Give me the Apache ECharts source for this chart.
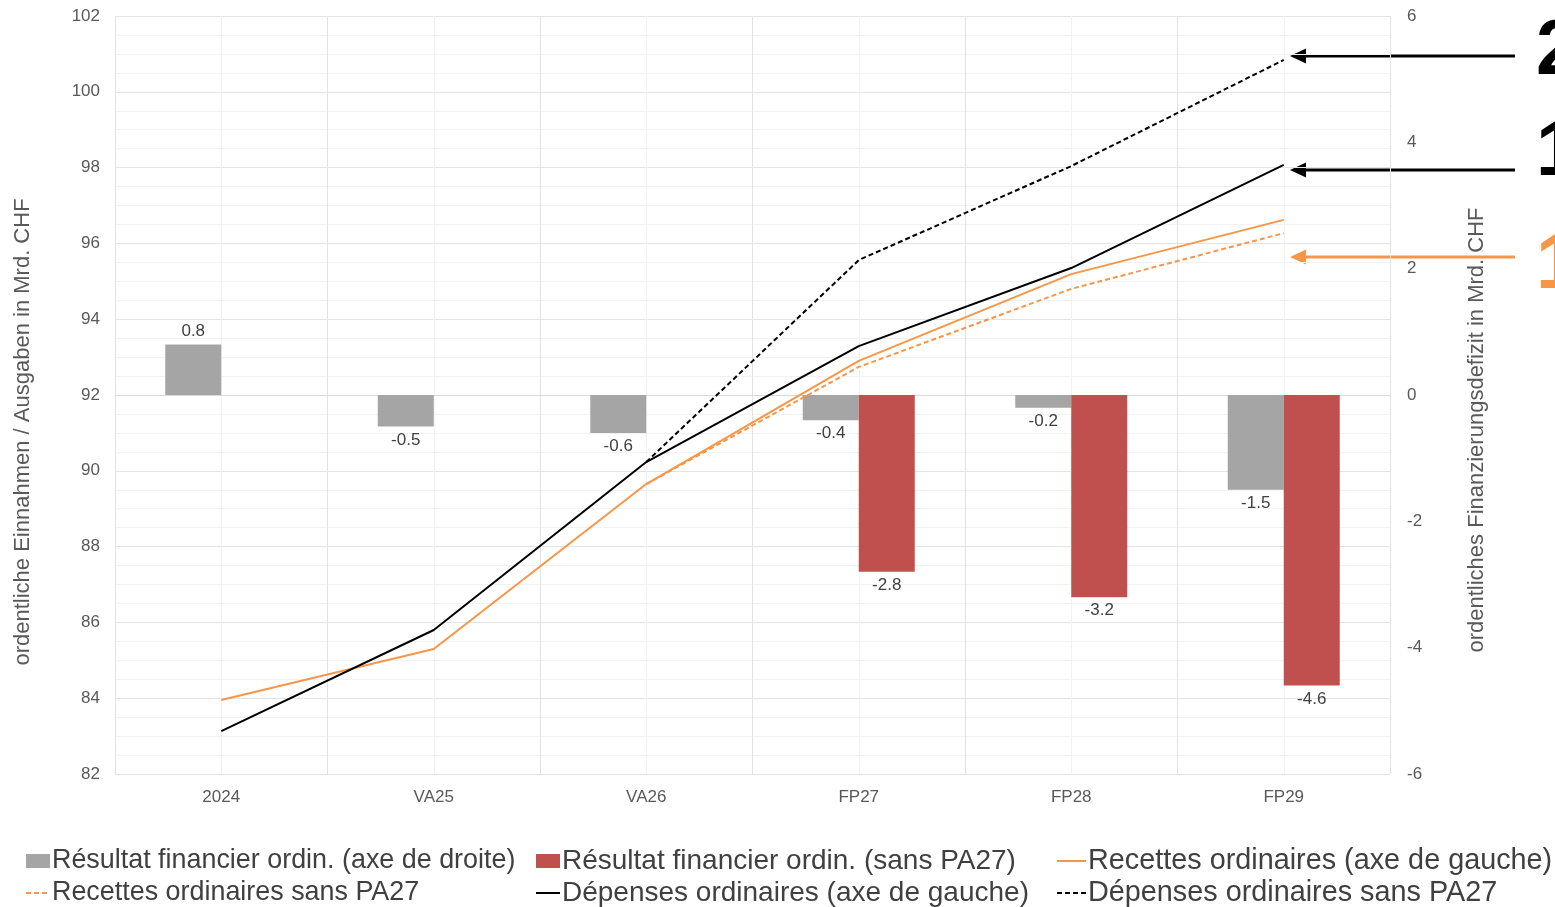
<!DOCTYPE html>
<html>
<head>
<meta charset="utf-8">
<script src="https://cdn.jsdelivr.net/npm/echarts@6/dist/echarts.min.js"></script>
<style>
  html, body { margin: 0; padding: 0; background: #ffffff; }
  #chart { width: 1555px; height: 907px; }
</style>
</head>
<body>
<div id="chart"></div>
<script>
// Budget years
const categories = ['2024', 'VA25', 'VA26', 'FP27', 'FP28', 'FP29'];

// Ordinary financial result, right axis (bn CHF)
const resultat = [0.8, -0.5, -0.6, -0.4, -0.2, -1.5];
const resultatSansPA27 = [null, null, null, -2.8, -3.2, -4.6];

// Ordinary receipts / expenditure, left axis (bn CHF)
const recettes = [83.95, 85.30, 89.65, 92.90, 95.19, 96.62];
const recettesSansPA27 = [null, null, 89.65, 92.74, 94.80, 96.27];
const depenses = [83.13, 85.80, 90.23, 93.29, 95.35, 98.07];
const depensesSansPA27 = [null, null, 90.23, 95.56, 98.04, 100.84];

// Axis ranges
const leftAxis = { min: 82, max: 102, interval: 2 };
const rightAxis = { min: -6, max: 6, interval: 2 };

// Callout numbers beside the line ends
const callouts = ['2', '1', '1'];

const FONT = '"Liberation Sans", Arial, Helvetica, sans-serif';
const GREY = '#A5A5A5';
const RED = '#C0504D';
const ORANGE = '#F79646';
const BLACK = '#000000';
const TICK = '#595959';
const LABEL = '#404040';

const names = {
  res: 'Résultat financier ordin. (axe de droite)',
  resSans: 'Résultat financier ordin. (sans PA27)',
  rec: 'Recettes ordinaires (axe de gauche)',
  recSans: 'Recettes ordinaires sans PA27',
  dep: 'Dépenses ordinaires (axe de gauche)',
  depSans: 'Dépenses ordinaires sans PA27'
};

function barData(arr) {
  return arr.map(v => v == null ? null : {
    value: v,
    label: { position: v >= 0 ? 'top' : 'bottom' }
  });
}

const barLabel = {
  show: true,
  distance: 5,
  color: LABEL,
  fontSize: 17,
  fontFamily: FONT,
  formatter: p => p.value.toFixed(1)
};

// legend entries for lines: plain line sample, no symbol dot
const lineEntry = name => ({ name: name, itemStyle: { opacity: 0 } });
const barEntry = name => ({ name: name, icon: 'rect' });

function legendColumn(left, itemWidth, fontSize, data) {
  return {
    orient: 'vertical',
    left: left,
    bottom: -2,
    padding: 0,
    itemGap: 0,
    itemWidth: itemWidth,
    itemHeight: 14,
    selectedMode: false,
    textStyle: { fontSize: fontSize, color: LABEL, fontFamily: FONT, lineHeight: 32,
                 padding: [0, 0, 0, -3] },
    data: data
  };
}

function arrow(y, color) {
  return [
    { type: 'line', shape: { x1: 1515, y1: y, x2: 1302, y2: y },
      style: { stroke: color, lineWidth: 3 }, silent: true },
    { type: 'polygon', shape: { points: [[1290, y], [1306, y - 7.5], [1306, y + 7.5]] },
      style: { fill: color }, silent: true }
  ];
}

function callout(text, y, color) {
  return { type: 'text', x: 1536, y: y, silent: true,
    style: { text: text, fill: color, font: 'bold 77px ' + FONT,
             textAlign: 'left', textVerticalAlign: 'middle' } };
}

const chart = echarts.init(document.getElementById('chart'));

chart.setOption({
  animation: false,
  backgroundColor: '#ffffff',
  textStyle: { fontFamily: FONT },
  grid: { left: 115, right: 165, top: 16, bottom: 133, containLabel: false },
  xAxis: [
    {
      type: 'category',
      data: categories,
      boundaryGap: true,
      axisLine: { show: true, lineStyle: { color: '#D9D9D9', width: 1 } },
      axisTick: { show: false },
      splitLine: { show: false },
      axisLabel: { color: TICK, fontSize: 17, margin: 15 }
    },
    {
      // half-category grid: boundaries as major lines, centres as minor lines
      type: 'value',
      min: 0, max: 6, interval: 1,
      position: 'top',
      axisLine: { show: false },
      axisTick: { show: false },
      axisLabel: { show: false },
      splitLine: { show: true, lineStyle: { color: '#E3E3E3', width: 1 } },
      minorTick: { show: false, splitNumber: 2 },
      minorSplitLine: { show: true, lineStyle: { color: '#F2F2F2', width: 1 } }
    }
  ],
  yAxis: [
    {
      type: 'value',
      min: leftAxis.min, max: leftAxis.max, interval: leftAxis.interval,
      axisLine: { show: false },
      axisTick: { show: false },
      axisLabel: { color: TICK, fontSize: 17, margin: 15 },
      splitLine: { show: true, lineStyle: { color: '#E3E3E3', width: 1 } },
      minorTick: { show: false, splitNumber: 4 },
      minorSplitLine: { show: true, lineStyle: { color: '#F2F2F2', width: 1 } }
    },
    {
      type: 'value',
      min: rightAxis.min, max: rightAxis.max, interval: rightAxis.interval,
      position: 'right',
      axisLine: { show: false },
      axisTick: { show: false },
      axisLabel: { color: TICK, fontSize: 17, margin: 17 },
      splitLine: { show: false }
    }
  ],
  legend: [
    legendColumn(25, 24, 26.9, [barEntry(names.res), lineEntry(names.recSans)]),
    legendColumn(535, 24, 28, [barEntry(names.resSans), lineEntry(names.dep)]),
    legendColumn(1056, 29, 28.8, [lineEntry(names.rec), lineEntry(names.depSans)])
  ],
  series: [
    {
      name: names.res, type: 'bar', yAxisIndex: 1,
      data: barData(resultat), barWidth: 56, barGap: '0%',
      itemStyle: { color: GREY }, label: barLabel
    },
    {
      name: names.resSans, type: 'bar', yAxisIndex: 1,
      data: barData(resultatSansPA27), barWidth: 56, barGap: '0%',
      itemStyle: { color: RED }, label: barLabel
    },
    {
      name: names.rec, type: 'line', yAxisIndex: 0, data: recettes,
      symbol: 'none', lineStyle: { color: ORANGE, width: 2 }, itemStyle: { color: ORANGE }, z: 3
    },
    {
      name: names.recSans, type: 'line', yAxisIndex: 0, data: recettesSansPA27,
      symbol: 'none', lineStyle: { color: ORANGE, width: 2, type: [5, 3] }, itemStyle: { color: ORANGE }, z: 3
    },
    {
      name: names.dep, type: 'line', yAxisIndex: 0, data: depenses,
      symbol: 'none', lineStyle: { color: BLACK, width: 2 }, itemStyle: { color: BLACK }, z: 4
    },
    {
      name: names.depSans, type: 'line', yAxisIndex: 0, data: depensesSansPA27,
      symbol: 'none', lineStyle: { color: BLACK, width: 2, type: [5, 3] }, itemStyle: { color: BLACK }, z: 4
    }
  ],
  graphic: [
    { type: 'text', x: 23, y: 432, rotation: Math.PI / 2, silent: true,
      style: { text: 'ordentliche Einnahmen / Ausgaben in Mrd. CHF', fill: TICK,
               font: '22px ' + FONT, textAlign: 'center', textVerticalAlign: 'middle' } },
    { type: 'text', x: 1477, y: 430, rotation: Math.PI / 2, silent: true,
      style: { text: 'ordentliches Finanzierungsdefizit in Mrd. CHF', fill: TICK,
               font: '22px ' + FONT, textAlign: 'center', textVerticalAlign: 'middle' } },
    ...arrow(56, BLACK),
    ...arrow(170, BLACK),
    ...arrow(257, ORANGE),
    callout(callouts[0], 53, BLACK),
    callout(callouts[1], 154, BLACK),
    callout(callouts[2], 267, ORANGE)
  ]
});
</script>
</body>
</html>
